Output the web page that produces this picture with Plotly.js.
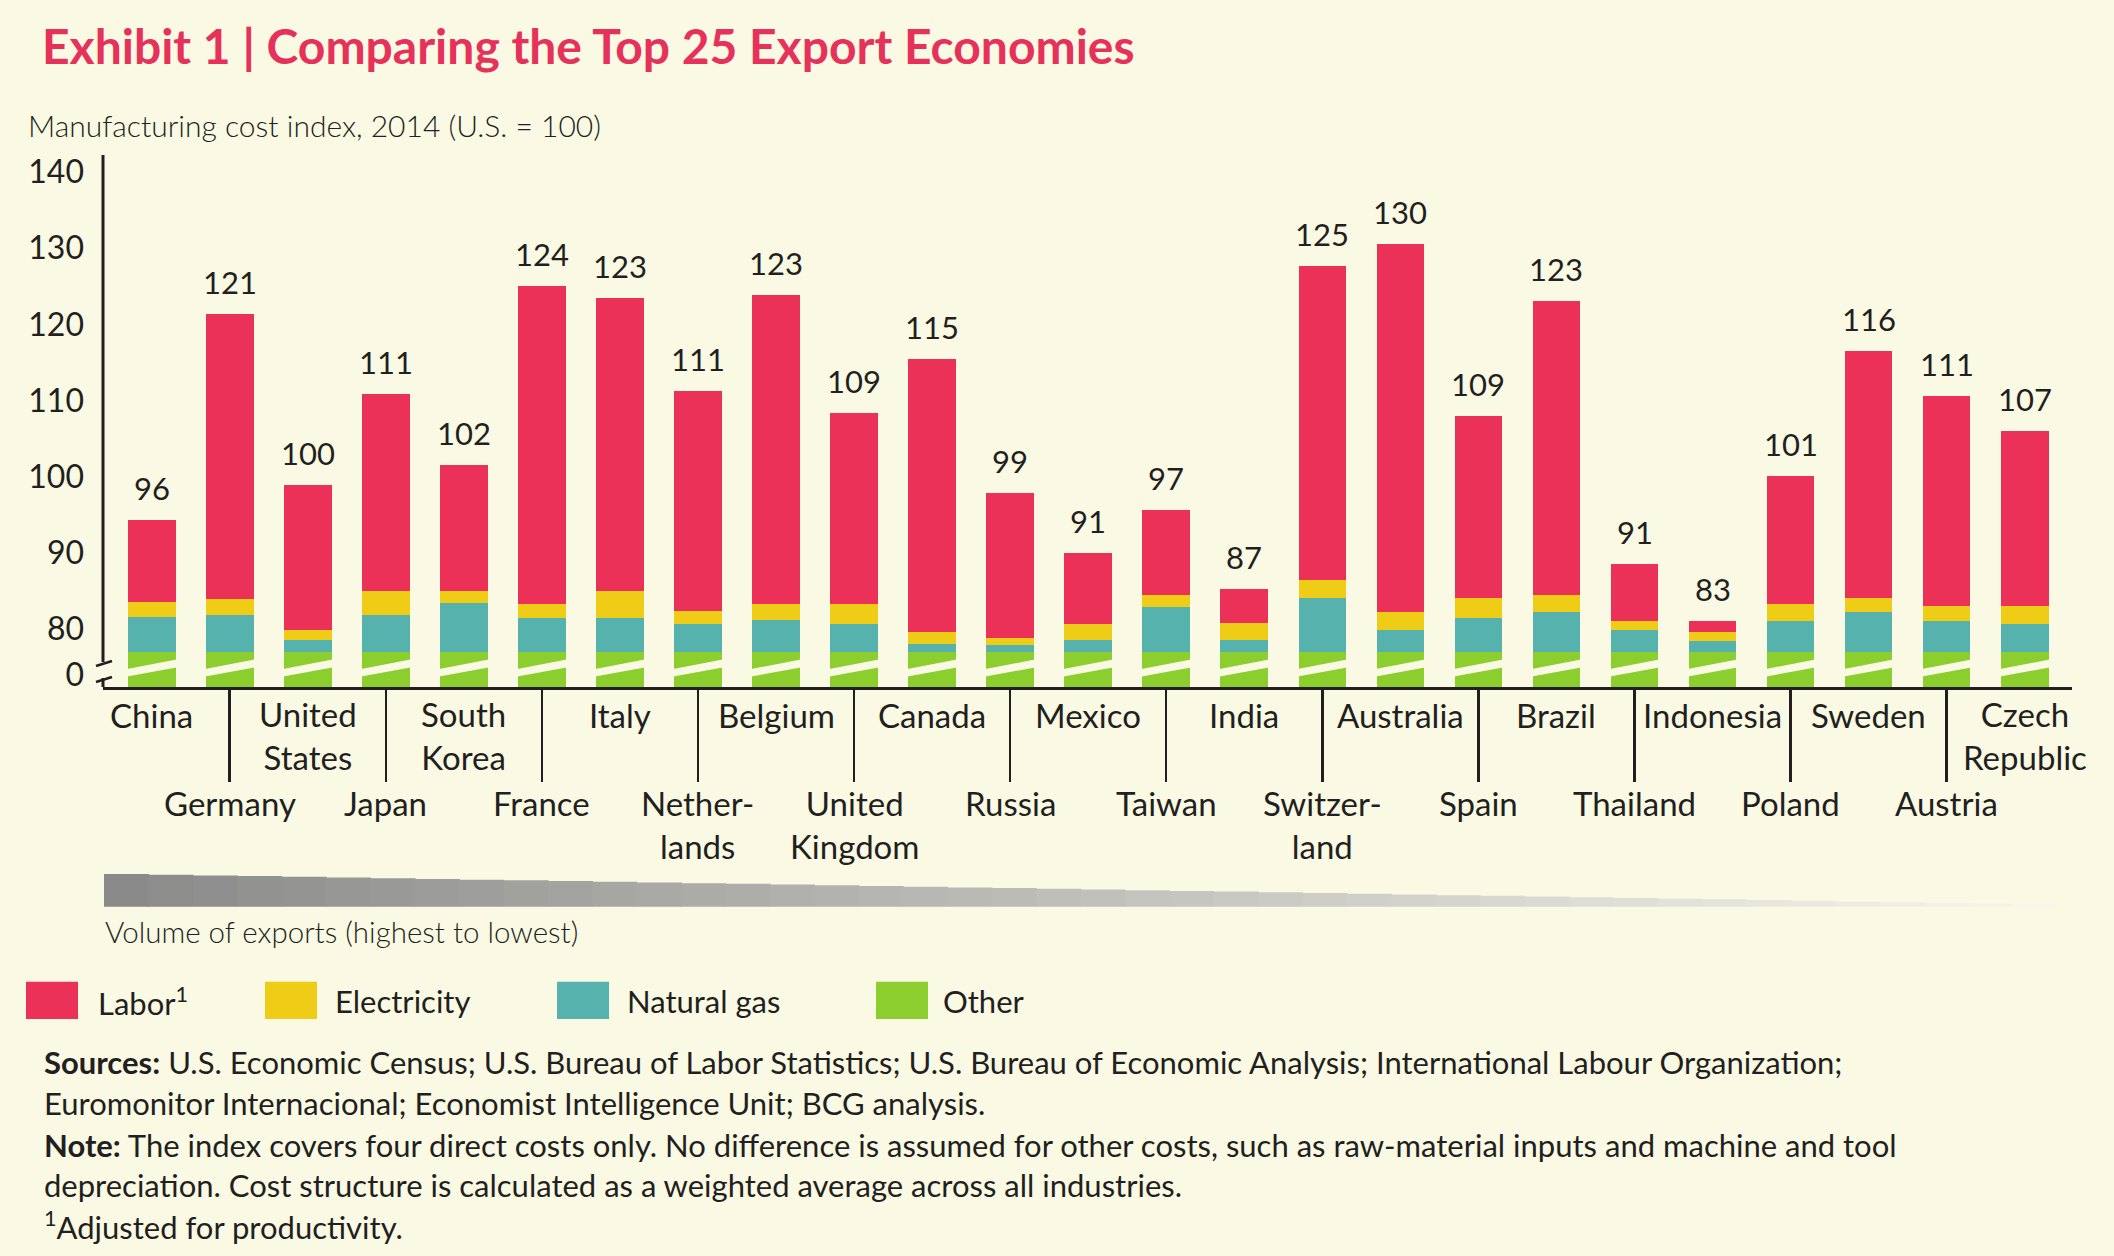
<!DOCTYPE html>
<html>
<head>
<meta charset="utf-8">
<script src="https://cdn.plot.ly/plotly-3.0.1.min.js"></script>
<style>
  html, body { margin: 0; padding: 0; background: #fafae4; }
  #chart { width: 2114px; height: 1256px; }
</style>
</head>
<body>
<div id="chart"></div>
<script>
// ---------------- DATA ----------------
const countries = ['China','Germany','United States','Japan','South Korea','France','Italy','Netherlands','Belgium','United Kingdom','Canada','Russia','Mexico','Taiwan','India','Switzerland','Australia','Spain','Brazil','Thailand','Indonesia','Poland','Sweden','Austria','Czech Republic'];
const countryLabels = ['China','Germany','United<br>States','Japan','South<br>Korea','France','Italy','Nether-<br>lands','Belgium','United<br>Kingdom','Canada','Russia','Mexico','Taiwan','India','Switzer-<br>land','Australia','Spain','Brazil','Thailand','Indonesia','Poland','Sweden','Austria','Czech<br>Republic'];
const totals      = [96,121,100,111,102,124,123,111,123,109,115,99,91,97,87,125,130,109,123,91,83,101,116,111,107];
const other       = [77,77,77,77,77,77,77,77,77,77,77,77,77,77,77,77,77,77,77,77,77,77,77,77,77];
const naturalGas  = [4.6,4.9,1.6,4.9,6.4,4.5,4.5,3.6,4.2,3.7,1.1,0.9,1.5,5.9,1.5,7.1,2.9,4.5,5.2,2.9,1.4,4.1,5.2,4.1,3.7];
const electricity = [2.0,2.1,1.3,3.1,1.6,1.8,3.5,1.8,2.1,2.6,1.5,0.9,2.1,1.6,2.3,2.3,2.4,2.6,2.3,1.2,1.2,2.2,1.9,1.9,2.3];
const labor       = [10.7,37.4,19.0,25.8,16.5,41.7,38.5,28.8,40.5,25.0,35.8,19.1,9.4,11.1,4.4,41.2,48.3,23.9,38.5,7.4,1.5,16.8,32.4,27.6,23.0];
const seriesNames = ['Labor<sup>1</sup>','Electricity','Natural gas','Other'];
const yTickVals   = [73.95,80,90,100,110,120,130,140];
const yTickText   = ['0','80','90','100','110','120','130','140'];

// ---------------- STYLE ----------------
const BG = '#fafae4', INK = '#231f20';
const C_LABOR = '#ec3159', C_ELEC = '#efcc16', C_GAS = '#56b2ac', C_OTHER = '#8bce2e';
const seriesColors = [C_LABOR, C_ELEC, C_GAS, C_OTHER];
const FONT = 'Lato, "Open Sans", sans-serif';

const W = 2114, H = 1256;
const L = 103, R = 2072, T = 155, B = 687;
const PW = R - L, PH = B - T;
const px = x => (x - L) / PW;
const py = y => (B - y) / PH;
const yRange = [72.39, 142.23];

function bar(name, y, color) {
  return { type: 'bar', x: countries, y: y, name: name, width: 0.61,
           marker: { color: color, line: { width: 0 } }, hoverinfo: 'skip', showlegend: false };
}
const traces = [
  bar('Other', other, C_OTHER),
  bar('Natural gas', naturalGas, C_GAS),
  bar('Electricity', electricity, C_ELEC),
  bar('Labor', labor, C_LABOR)
];

const annotations = [];
const shapes = [];

// y-axis heading
annotations.push({ xref: 'paper', yref: 'paper', x: px(26), y: py(125), xanchor: 'left', yanchor: 'middle',
  text: 'Manufacturing cost index, 2014 (U.S. = 100)', showarrow: false,
  font: { family: FONT, size: 30, weight: 300, color: INK } });

// value labels above stacks
countries.forEach((c, i) => {
  const top = other[i] + naturalGas[i] + electricity[i] + labor[i];
  annotations.push({ xref: 'x', yref: 'y', x: c, y: top, yanchor: 'bottom', yshift: 11,
    text: String(totals[i]), showarrow: false, font: { family: FONT, size: 31, color: INK } });
});

// staggered country labels (one text per country)
const LBL_SIZE = 33, LINE_H = LBL_SIZE * 1.3;
countries.forEach((c, i) => {
  const nLines = countryLabels[i].split('<br>').length;
  const firstLineY = (i % 2 === 0) ? 714.5 : 803.4;
  const centerY = firstLineY + (nLines - 1) * LINE_H / 2;
  annotations.push({ xref: 'x', yref: 'paper', x: c, y: py(centerY), yanchor: 'middle', xanchor: 'center',
    text: countryLabels[i], showarrow: false, align: 'center',
    font: { family: FONT, size: LBL_SIZE, color: INK } });
});

// y axis line with break
shapes.push({ type: 'line', xref: 'paper', yref: 'paper', x0: 0, x1: 0, y0: py(662), y1: 1, line: { color: INK, width: 3 } });
shapes.push({ type: 'line', xref: 'paper', yref: 'paper', x0: 0, x1: 0, y0: py(678), y1: 0, line: { color: INK, width: 3 } });
[663.5, 679.5].forEach(yy => {
  shapes.push({ type: 'line', xref: 'paper', yref: 'paper', xsizemode: 'pixel', ysizemode: 'pixel',
    xanchor: 0, yanchor: py(yy), x0: -7, x1: 9, y0: -2.5, y1: 2.5, line: { color: INK, width: 2.5 } });
});

// break stripes across the green bars
countries.forEach(c => {
  shapes.push({ type: 'path', xref: 'x', yref: 'paper', xsizemode: 'pixel', ysizemode: 'pixel',
    xanchor: c, yanchor: py(668.2), path: 'M-26,-1.1L26,8.9L26,0.9L-26,-8.5Z',
    fillcolor: BG, line: { width: 0 }, layer: 'above' });
});

// export-volume wedge (decorative, stepped gray fade)
const NSTEP = 44, wx0 = 104, wx1 = 2057, wTop0 = 874, wTop1 = 905, wBot = 906.7;
for (let k = 0; k < NSTEP; k++) {
  const f = k / NSTEP;
  const c0 = [138, 138, 138], c1 = [248, 248, 238];
  const col = 'rgb(' + c0.map((v, j) => Math.round(v + (c1[j] - v) * f)).join(',') + ')';
  shapes.push({ type: 'rect', xref: 'paper', yref: 'paper',
    x0: px(wx0 + (wx1 - wx0) * f), x1: px(wx0 + (wx1 - wx0) * (k + 1) / NSTEP + 0.8),
    y0: py(wBot), y1: py(wTop0 + (wTop1 - wTop0) * f), fillcolor: col, line: { width: 0 }, layer: 'below' });
}
annotations.push({ xref: 'paper', yref: 'paper', x: px(103), y: py(931), xanchor: 'left', yanchor: 'middle',
  text: 'Volume of exports (highest to lowest)', showarrow: false,
  font: { family: FONT, size: 29.5, weight: 300, color: INK } });

// legend (swatches + labels)
const legSwX = [26, 265, 557, 876], legTxtX = [96, 333, 625, 941];
seriesNames.forEach((n, i) => {
  shapes.push({ type: 'rect', xref: 'paper', yref: 'paper', x0: px(legSwX[i]), x1: px(legSwX[i] + 52),
    y0: py(1019), y1: py(981.7), fillcolor: seriesColors[i], line: { width: 0 } });
  annotations.push({ xref: 'paper', yref: 'paper', x: px(legTxtX[i]), y: py(1001), xanchor: 'left', yanchor: 'middle',
    text: n, showarrow: false, font: { family: FONT, size: 31, color: INK } });
});

// sources & notes
const notes = [
  '<b>Sources:</b> U.S. Economic Census; U.S. Bureau of Labor Statistics; U.S. Bureau of Economic Analysis; International Labour Organization;',
  'Euromonitor Internacional; Economist Intelligence Unit; BCG analysis.',
  '<b>Note:</b> The index covers four direct costs only. No difference is assumed for other costs, such as raw-material inputs and machine and tool',
  'depreciation. Cost structure is calculated as a weighted average across all industries.',
  '<sup>1</sup>Adjusted for productivity.'
];
const noteY = [1062, 1102.6, 1144.5, 1185, 1225.3];
notes.forEach((t, i) => {
  annotations.push({ xref: 'paper', yref: 'paper', x: px(42), y: py(noteY[i]), xanchor: 'left', yanchor: 'middle',
    text: t, showarrow: false, font: { family: FONT, size: 31, color: INK } });
});

const layout = {
  width: W, height: H,
  margin: { l: L, r: W - R, t: T, b: H - B, pad: 0 },
  paper_bgcolor: BG, plot_bgcolor: BG,
  barmode: 'stack', bargap: 0.39,
  showlegend: false,
  font: { family: FONT, color: INK },
  title: { text: 'Exhibit 1 | Comparing the Top 25 Export Economies',
    font: { family: FONT, size: 48, weight: 700, color: '#e6325a' },
    xref: 'container', yref: 'container', x: 42 / W, y: 1 - 47.5 / H, xanchor: 'left', yanchor: 'middle' },
  xaxis: {
    type: 'category', range: [-0.624, 24.606], fixedrange: true,
    showline: true, linecolor: INK, linewidth: 3,
    showgrid: false, zeroline: false,
    tickmode: 'array', tickvals: countries.filter((c, i) => i % 2 === 1),
    ticks: 'outside', ticklen: 92, tickwidth: 2.5, tickcolor: INK,
    showticklabels: false
  },
  yaxis: {
    range: yRange, fixedrange: true,
    showline: false, showgrid: false, zeroline: false,
    tickmode: 'array', tickvals: yTickVals, ticktext: yTickText,
    ticks: '', ticklabelstandoff: 18,
    tickfont: { family: FONT, size: 32, color: INK }
  },
  annotations: annotations,
  shapes: shapes
};

Plotly.newPlot('chart', traces, layout, { staticPlot: true, displayModeBar: false });
</script>
</body>
</html>
